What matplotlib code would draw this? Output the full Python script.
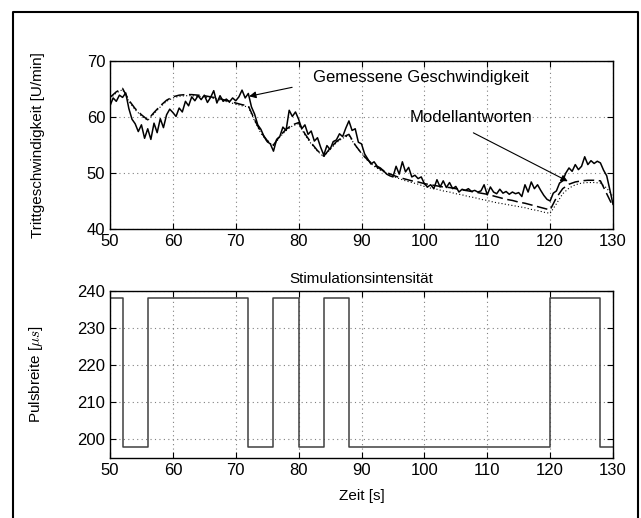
import numpy as np
import matplotlib
matplotlib.use("Agg")
import matplotlib.pyplot as plt
from matplotlib.lines import Line2D

plt.rcParams['font.family'] = ['Liberation Sans', 'DejaVu Sans']
plt.rcParams['mathtext.fontset'] = 'cm'

# gemessene Trittgeschwindigkeit, alle 0.5 s von 50 bis 130 s
t_mess = np.arange(50, 130.01, 0.5)
v_mess = [62.0, 63.4, 62.8, 63.9, 63.5, 64.3, 61.5, 59.6, 58.8, 57.4,
          58.6, 56.2, 57.9, 56.0, 58.9, 57.2, 59.7, 58.1, 60.4, 61.4,
          60.8, 60.1, 61.6, 60.9, 62.8, 62.0, 63.6, 62.9, 63.8, 63.1,
          63.9, 62.6, 63.5, 64.7, 62.5, 63.8, 62.8, 63.2, 62.7, 63.4,
          62.9, 63.6, 64.8, 63.4, 64.2, 61.8, 60.5, 58.6, 57.8, 56.5,
          55.6, 55.2, 53.9, 56.0, 56.5, 58.2, 57.6, 61.2, 60.1, 60.9,
          59.6, 57.9, 58.6, 56.9, 57.5, 55.7, 56.3, 54.6, 53.2, 54.9,
          54.2, 55.6, 55.9, 57.0, 56.5, 58.0, 59.3, 57.6, 57.9, 55.5,
          55.2, 53.4, 52.5, 51.6, 52.0, 51.2, 50.9, 50.4, 49.8, 49.5,
          49.3, 51.2, 49.8, 52.0, 50.2, 51.0, 49.3, 49.6, 49.0, 49.3,
          48.1, 47.5, 47.9, 47.2, 48.8, 47.5, 48.6, 47.4, 48.3, 47.2,
          47.6, 46.6, 47.1, 46.9, 47.2, 46.7, 46.9, 46.6, 46.8, 47.9,
          46.1, 47.5, 46.6, 46.3, 47.1, 46.4, 46.7, 46.2, 46.6, 46.3,
          46.5, 45.8, 47.9, 46.6, 48.4, 47.2, 47.9, 46.9, 46.0, 45.3,
          45.0, 46.4, 46.8, 48.2, 48.6, 50.0, 50.9, 50.3, 51.5, 50.6,
          51.2, 52.9, 51.5, 52.2, 51.7, 52.1, 51.8, 50.5, 49.5, 47.0,
          44.4]

# Modellantworten, jede Sekunde
t_mod = np.arange(50, 131, 1)
v_mod1 = [63.5, 64.5, 65.1, 63.0, 61.5, 60.4, 59.5, 60.8, 62.0, 63.0,
          63.6, 63.9, 64.0, 64.0, 63.9, 63.8, 63.6, 63.4, 63.1, 62.8,
          62.5, 62.2, 62.0, 59.5, 57.3, 55.8, 55.0, 56.6, 57.8, 58.6,
          59.0, 57.0, 55.4, 54.0, 53.0, 54.4, 55.6, 56.4, 56.9, 55.0,
          53.5, 52.3, 51.4, 50.7, 50.1, 49.6, 49.2, 48.9, 48.6, 48.4,
          48.1, 47.9, 47.7, 47.5, 47.4, 47.2, 47.0, 46.8, 46.6, 46.4,
          46.2, 45.9, 45.6, 45.3, 45.1, 44.8, 44.6, 44.3, 44.0, 43.7,
          43.4, 45.6, 47.2, 48.0, 48.4, 48.6, 48.7, 48.7, 48.6, 46.3,
          44.0]
v_mod2 = [63.3, 64.3, 64.9, 62.8, 61.3, 60.2, 59.4, 60.6, 61.8, 62.8,
          63.4, 63.7, 63.8, 63.8, 63.7, 63.6, 63.4, 63.2, 62.9, 62.6,
          62.3, 62.0, 61.8, 59.3, 57.1, 55.6, 54.9, 56.4, 57.6, 58.4,
          58.8, 56.8, 55.2, 53.9, 52.9, 54.2, 55.4, 56.2, 56.7, 54.9,
          53.5, 52.2, 51.2, 50.5, 49.9, 49.4, 49.0, 48.6, 48.3, 48.0,
          47.6, 47.3, 47.1, 46.8, 46.6, 46.3, 46.1, 45.8, 45.6, 45.3,
          45.1, 44.8, 44.6, 44.4, 44.2, 44.0, 43.8, 43.5, 43.3, 43.0,
          42.8, 44.5, 46.3, 47.3, 47.9, 48.2, 48.3, 48.3, 48.2, 47.3,
          45.8]

# Stimulationsintensität (Pulsbreite)
t_stim = [50, 52, 56, 72, 76, 80, 84, 88, 120, 128, 130]
p_stim = [238, 198, 238, 198, 238, 198, 238, 198, 238, 198, 198]

xticks = [50, 60, 70, 80, 90, 100, 110, 120, 130]

fig = plt.figure(figsize=(6.41, 5.18), dpi=100)
ax1 = fig.add_axes([110/641, 1-229/518, 503/641, 168/518])
ax2 = fig.add_axes([110/641, 1-458/518, 503/641, 167/518])

ax1.plot(t_mess, v_mess, color='k', lw=1.1)
ax1.plot(t_mod, v_mod1, color='k', lw=1.1, ls=(0, (7, 3)))
ax1.plot(t_mod, v_mod2, color='k', lw=0.8, ls=(0, (1, 2)))
ax1.set_xlim(50, 130)
ax1.set_ylim(40, 70)
ax1.set_yticks([40, 50, 60, 70])
ax1.set_ylabel('Trittgeschwindigkeit [U/min]', fontsize=11)
ax1.yaxis.set_label_coords(-0.129, 0.5)

ax1.text(82.3, 67.1, 'Gemessene Geschwindigkeit', fontsize=12, va='center')
ax1.annotate('', xy=(71.7, 63.6), xytext=(79.4, 65.4),
             arrowprops=dict(arrowstyle='-|>', color='k', lw=0.8, mutation_scale=10))
ax1.text(97.6, 60.0, 'Modellantworten', fontsize=12, va='center')
ax1.annotate('', xy=(123.2, 48.3), xytext=(107.4, 57.4),
             arrowprops=dict(arrowstyle='-|>', color='k', lw=0.8, mutation_scale=10))

ax2.step(t_stim, p_stim, where='post', color='0.25', lw=1.1)
ax2.set_xlim(50, 130)
ax2.set_ylim(195, 240)
ax2.set_yticks([200, 210, 220, 230, 240])
ax2.set_ylabel(r'Pulsbreite [$\mu s$]', fontsize=11)
ax2.yaxis.set_label_coords(-0.129, 0.5)
ax2.set_xlabel('Zeit [s]', fontsize=11, labelpad=8)
ax2.set_title('Stimulationsintensität', fontsize=11, pad=6)

for ax in (ax1, ax2):
    ax.set_xticks(xticks)
    ax.grid(True, ls=(0, (1, 3)), color='0.5', lw=0.8)
    ax.tick_params(direction='in', top=True, right=True, labelsize=12, length=4, width=0.8)
    for s in ax.spines.values():
        s.set_linewidth(1.0)

# Rahmen um die Abbildung
x0, x1, y1 = 13/641, 638/641, 1-12/518
fig.add_artist(Line2D([x0, x0, x1, x1], [0, y1, y1, 0], transform=fig.transFigure,
                      color='k', lw=1.5))

fig.savefig('out.png', dpi=100)
